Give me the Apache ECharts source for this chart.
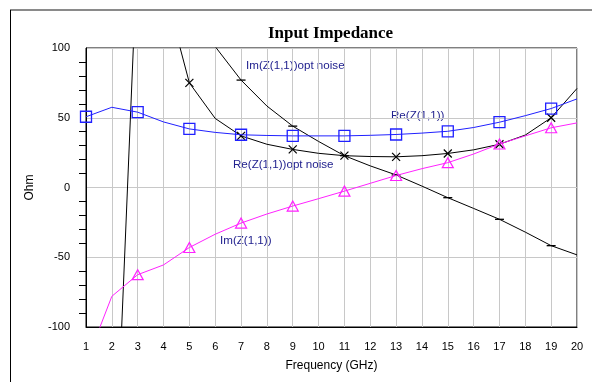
<!DOCTYPE html>
<html>
<head>
<meta charset="utf-8">
<script src="https://cdn.jsdelivr.net/npm/echarts@6/dist/echarts.min.js"></script>
<style>
  html, body { margin: 0; padding: 0; background: #fff; }
  #chart { width: 592px; height: 382px; }
</style>
</head>
<body>
<div id="chart"></div>
<script>
// frequency points (GHz)
const freqs = [1, 2, 3, 4, 5, 6, 7, 8, 9, 10, 11, 12, 13, 14, 15, 16, 17, 18, 19, 20];
const xTicks = [1, 2, 3, 4, 5, 6, 7, 8, 9, 10, 11, 12, 13, 14, 15, 16, 17, 18, 19, 20];
const yTicks = [-100, -50, 0, 50, 100];

// series values (Ohm)
const reZ11 = [50.7, 57.5, 54, 47, 42, 39.5, 37.8, 37.3, 37, 37, 37, 37.4, 38, 39, 40.3, 43, 46.8, 51.5, 56.6, 63.5];
const imZ11 = [-126, -78, -62.5, -55.5, -43, -33.5, -25.5, -19, -13.3, -8, -2.6, 3, 8.6, 13.5, 17.8, 24, 31.2, 37, 42.8, 46.3];
const reZoptNoise = [420, 260, 200, 145, 75, 49.5, 37, 31, 27.3, 24.5, 22.8, 22.2, 22, 22.8, 24.4, 27, 31, 37.6, 50, 71];
const imZoptNoise = [-420, -269, 175, 150, 125, 101, 77, 58.4, 44, 33, 22.8, 15.5, 9, 1, -7.3, -15, -22.8, -32, -41.7, -48.3];

const labelColor = '#22228f';
const font = '"Liberation Sans", Arial, sans-serif';

function pts(vals, sym) {
    return freqs.map((f, i) => ({
        value: [f, vals[i]],
        symbol: f % 2 === 1 ? sym : 'none'
    }));
}

const chart = echarts.init(document.getElementById('chart'));
const option = {
    animation: false,
    grid: {
        left: 86,
        right: 15,
        top: 48,
        bottom: 55,
        show: true,
        borderColor: '#000',
        borderWidth: 1
    },
    xAxis: {
        type: 'value',
        min: 1,
        max: 20,
        interval: 1,
        name: 'Frequency (GHz)',
        nameLocation: 'middle',
        nameGap: 33,
        nameTextStyle: { color: '#000', fontSize: 12, fontFamily: font },
        axisLine: { onZero: false, lineStyle: { color: '#000', width: 1 } },
        axisTick: { show: false },
        axisLabel: {
            color: '#000', fontSize: 11, fontFamily: font, margin: 14,
            formatter: v => xTicks.includes(v) ? String(v) : ''
        },
        splitLine: { show: true, lineStyle: { color: '#c8c8c8', width: 1 } }
    },
    yAxis: {
        type: 'value',
        min: -100,
        max: 100,
        interval: 50,
        name: 'Ohm',
        nameLocation: 'middle',
        nameGap: 50,
        nameTextStyle: { color: '#000', fontSize: 12, fontFamily: font },
        axisLine: { show: true, onZero: false, lineStyle: { color: '#000', width: 1 } },
        axisTick: { show: false },
        minorTick: { show: true, splitNumber: 5, length: 7, lineStyle: { color: '#000', width: 1 } },
        axisLabel: {
            color: '#000', fontSize: 11, fontFamily: font, margin: 16,
            formatter: v => yTicks.includes(v) ? String(v) : ''
        },
        splitLine: { show: true, lineStyle: { color: '#c8c8c8', width: 1 } }
    },
    series: [
        {
            name: 'Re(Z(1,1))',
            type: 'line',
            data: pts(reZ11, 'rect'),
            showAllSymbol: true,
            symbolSize: 11,
            lineStyle: { color: '#2020ff', width: 1 },
            itemStyle: { color: 'rgba(0,0,0,0)', borderColor: '#2020ff', borderWidth: 1.3 },
            z: 3
        },
        {
            name: 'Im(Z(1,1))',
            type: 'line',
            data: pts(imZ11, 'triangle'),
            showAllSymbol: true,
            symbolSize: [11, 10],
            lineStyle: { color: '#ff22ff', width: 1 },
            itemStyle: { color: 'rgba(0,0,0,0)', borderColor: '#ff22ff', borderWidth: 1.2 },
            z: 3
        },
        {
            name: 'Re(Z(1,1))opt noise',
            type: 'line',
            data: pts(reZoptNoise, 'path://M0,0L10,10M10,0L0,10'),
            showAllSymbol: true,
            symbolSize: 8,
            lineStyle: { color: '#000', width: 1 },
            itemStyle: { color: 'none', borderColor: '#000', borderWidth: 1.2 },
            z: 2
        },
        {
            name: 'Im(Z(1,1))opt noise',
            type: 'line',
            data: pts(imZoptNoise, 'rect'),
            showAllSymbol: true,
            symbolSize: [9, 1.3],
            lineStyle: { color: '#000', width: 1 },
            itemStyle: { color: '#000', borderWidth: 0 },
            z: 2
        }
    ],
    graphic: [
        { type: 'line', shape: { x1: 10, y1: 10, x2: 592, y2: 10 }, style: { stroke: '#8a8a8a', lineWidth: 2 } },
        { type: 'line', shape: { x1: 10.5, y1: 10, x2: 10.5, y2: 382 }, style: { stroke: '#000', lineWidth: 1 } },
        {
            type: 'text', left: 268, top: 25,
            style: { text: 'Input Impedance', font: 'bold 17px "Liberation Serif", "Times New Roman", serif', fill: '#000' }
        },
        { type: 'text', left: 246, top: 60, style: { text: 'Im(Z(1,1))opt noise', font: '11.6px ' + font, fill: labelColor } },
        { type: 'text', left: 233, top: 159, style: { text: 'Re(Z(1,1))opt noise', font: '11.6px ' + font, fill: labelColor } },
        { type: 'text', left: 391, top: 110, style: { text: 'Re(Z(1,1))', font: '11.6px ' + font, fill: labelColor } },
        { type: 'text', left: 220, top: 235, style: { text: 'Im(Z(1,1))', font: '11.6px ' + font, fill: labelColor } }
    ]
};
chart.setOption(option);
</script>
</body>
</html>
